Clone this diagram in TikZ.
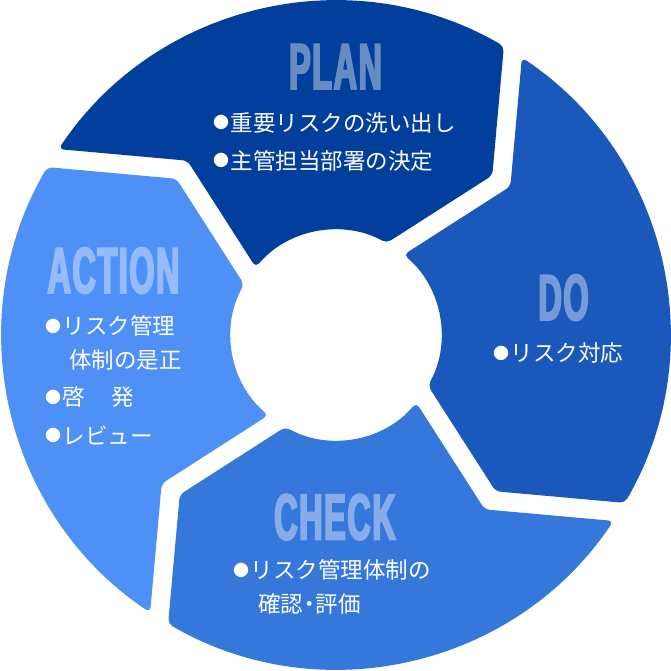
\documentclass[tikz,border=0pt]{standalone}
\usepackage{fontspec}
\usetikzlibrary{calc}
\newfontfamily\jp{Noto Sans CJK JP}
\newfontfamily\ttl{Liberation Sans}[FakeStretch=0.5,FakeBold=2.8]
\definecolor{plancol}{HTML}{023F9C}
\definecolor{docol}{HTML}{1B58BC}
\definecolor{checkcol}{HTML}{3677DB}
\definecolor{actcol}{HTML}{4E90F6}
\colorlet{planttl}{white!40!plancol}
\colorlet{dottl}{white!40!docol}
\colorlet{checkttl}{white!40!checkcol}
\colorlet{actttl}{white!40!actcol}
\newcommand\mybul{{\fontsize{16pt}{16pt}\selectfont\raisebox{2.5pt}{●}}\hspace{1.5pt}}
\tikzset{
  ttlstyle/.style={font=\ttl\bfseries\fontsize{65pt}{65pt}\selectfont, anchor=base, inner sep=0pt},
  jptext/.style={font=\jp\fontsize{22.5pt}{27pt}\selectfont, text=white, anchor=base west, inner sep=0pt},
  seg/.style={rounded corners=5pt}
}
\begin{document}
\begin{tikzpicture}[x=1pt,y=1pt]
\fill[white] (0,0) rectangle (670,-671);
\useasboundingbox (0,0) rectangle (670,-671);
\coordinate (C) at (336,-335);
\foreach \k/\ang in {1/58,2/148,3/238,4/328}{
  \coordinate (O\k) at ($(C)+(\ang:334pt)$);
  \coordinate (M\k) at ($(C)+({\ang-15}:226pt)$);
  \coordinate (I\k) at ($(C)+({\ang-2.5}:105pt)$);
  \coordinate (a\k) at ($(O\k)!9.5pt!90:(M\k)$);
  \coordinate (b\k) at ($(M\k)!9.5pt!-90:(O\k)$);
  \coordinate (c\k) at ($(M\k)!9.5pt!90:(I\k)$);
  \coordinate (d\k) at ($(I\k)!9.5pt!-90:(M\k)$);
  \coordinate (Kcw\k) at (intersection cs: first line={(a\k)--(b\k)}, second line={(c\k)--(d\k)});
  \coordinate (e\k) at ($(O\k)!9.5pt!-90:(M\k)$);
  \coordinate (f\k) at ($(M\k)!9.5pt!90:(O\k)$);
  \coordinate (g\k) at ($(M\k)!9.5pt!-90:(I\k)$);
  \coordinate (h\k) at ($(I\k)!9.5pt!90:(M\k)$);
  \coordinate (Kccw\k) at (intersection cs: first line={(e\k)--(f\k)}, second line={(g\k)--(h\k)});
}
% PLAN
\fill[plancol, seg] ($(C)+(146.18:334pt)$) arc[start angle=146.18,end angle=59.82,radius=334pt]
  -- (Kccw1) -- ($(C)+(61.15:105pt)$) arc[start angle=61.15,end angle=139.85,radius=105pt]
  -- (Kcw2) -- cycle;
% DO
\fill[docol, seg] ($(C)+(56.18:334pt)$) arc[start angle=56.18,end angle=-30.18,radius=334pt]
  -- (Kccw4) -- ($(C)+(-28.85:105pt)$) arc[start angle=-28.85,end angle=49.85,radius=105pt]
  -- (Kcw1) -- cycle;
% CHECK
\fill[checkcol, seg] ($(C)+(-33.82:334pt)$) arc[start angle=-33.82,end angle=-120.18,radius=334pt]
  -- (Kccw3) -- ($(C)+(-118.85:105pt)$) arc[start angle=-118.85,end angle=-40.15,radius=105pt]
  -- (Kcw4) -- cycle;
% ACTION
\fill[actcol, seg] ($(C)+(236.18:334pt)$) arc[start angle=236.18,end angle=149.82,radius=334pt]
  -- (Kccw2) -- ($(C)+(151.15:105pt)$) arc[start angle=151.15,end angle=229.85,radius=105pt]
  -- (Kcw3) -- cycle;
% titles
\node[ttlstyle, text=planttl] (planT) at (335.5,-89) {P\kern1.5pt L\kern1.5pt A\kern1.5pt N};
\node[ttlstyle, text=dottl] (doT) at (563.5,-320) {D\kern1.5pt O};
\node[ttlstyle, text=checkttl] (checkT) at (335,-539.5) {C\kern1.5pt H\kern1.5pt E\kern1.5pt C\kern1.5pt K};
\node[ttlstyle, text=actttl] (actT) at (113.5,-293) {A\kern1.5pt C\kern1.5pt T\kern1.5pt I\kern1.5pt O\kern1.5pt N};
% texts
\node[jptext] (p1) at (213,-131.5) {\mybul 重要リスクの洗い出し};
\node[jptext] (p2) at (213,-169.5) {\mybul 主管担当部署の決定};
\node[jptext] (d1) at (493,-361.5) {\mybul リスク対応};
\node[jptext] (c1) at (233,-578.5) {\mybul リスク管理体制の};
\node[jptext] (c2) at (258,-612) {確認\hspace{-5pt}・\hspace{-5pt}評価};
\node[jptext] (a1) at (45,-334.5) {\mybul リスク管理};
\node[jptext] (a2) at (69,-368) {体制の是正};
\node[jptext] (a3) at (45,-405.5) {\mybul 啓　\hspace{3.5pt}発};
\node[jptext] (a4) at (45,-444) {\mybul レビュー};
\end{tikzpicture}
\end{document}
